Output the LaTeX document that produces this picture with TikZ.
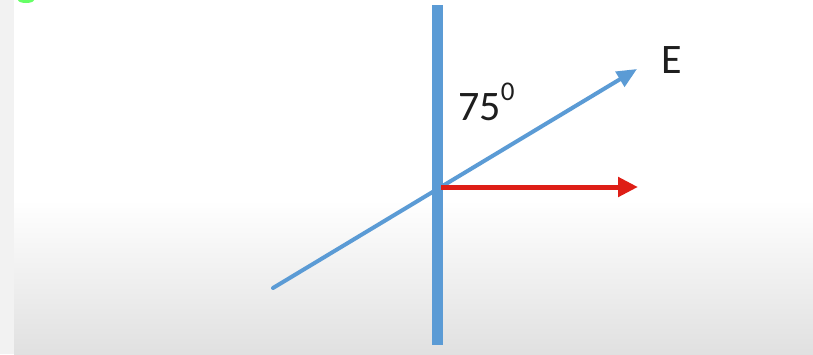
\documentclass[tikz,border=0pt]{standalone}
\usepackage{fontspec}
\setmainfont{Carlito}
\usetikzlibrary{arrows.meta}
\definecolor{offblue}{RGB}{91,155,213}
\definecolor{offred}{RGB}{222,30,22}
\definecolor{txt}{RGB}{30,30,30}
\tikzset{
  axisline/.style={offblue, line width=11pt},
  efield/.style={offblue, line width=4pt, -{Triangle[length=20pt,width=17pt]}},
  redvec/.style={offred, line width=5pt, -{Triangle[length=20pt,width=19pt]}},
  lbl/.style={inner sep=0pt, text=txt, font=\fontsize{42}{50}\selectfont}
}
\begin{document}
\begin{tikzpicture}[x=1pt,y=-1pt]
\useasboundingbox (0,0) rectangle (813,354);
% background
\fill[white] (0,0) rectangle (813,354);
\fill[white] (14,0) rectangle (813,200);
\shade[top color=white, bottom color=black!12] (14,200) rectangle (813,354);
\fill[black!5] (0,0) rectangle (14,354);
\fill[green!60] (26,0) ellipse (8 and 3);
% geometry
\coordinate (Vtop) at (437,5);
\coordinate (Vbot) at (437,345);
\coordinate (Estart) at (273,288);
\coordinate (Eend) at (637,69);
\coordinate (O) at (441,187);
\coordinate (Rend) at (638,187);
\draw[axisline] (Vtop) -- (Vbot);
\draw[efield, line cap=round] (Estart) -- (Eend);
\draw[redvec] (O) -- (Rend);
% labels
\node[lbl, anchor=base west] (elabel) at (661,73) {E};
\node[lbl, anchor=base west] (angle) at (458,120) {75\raisebox{20pt}{\fontsize{27}{30}\selectfont 0}};
\end{tikzpicture}
\end{document}
